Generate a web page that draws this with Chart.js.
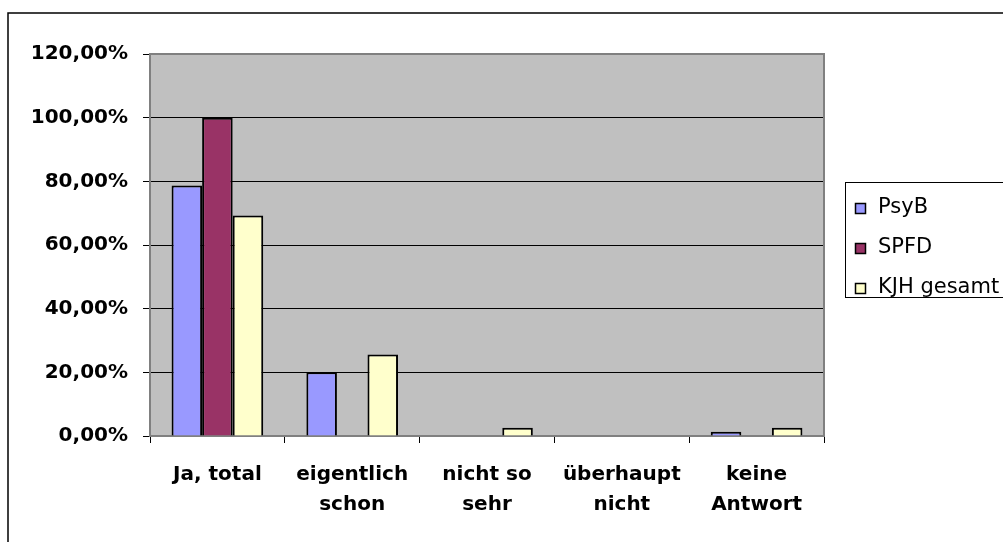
<!DOCTYPE html>
<html>
<head>
<meta charset="utf-8">
<script src="https://cdn.jsdelivr.net/npm/chart.js@4/dist/chart.umd.min.js"></script>
<style>
  html, body { margin: 0; padding: 0; background: #fff; }
  #wrap { width: 1003px; height: 542px; }
</style>
</head>
<body>
<div id="wrap"><canvas id="chart" width="1003" height="542"></canvas></div>
<script>
// data (share of answers, 0..1)
const categories = ['Ja, total', ['eigentlich', 'schon'], ['nicht so', 'sehr'], ['überhaupt', 'nicht'], ['keine', 'Antwort']];
const seriesNames = ['PsyB', 'SPFD', 'KJH gesamt'];
const psyb = [0.7867, 0.20, 0, 0, 0.0133];
const spfd = [1.00, 0, 0, 0, 0];
const kjh = [0.6923, 0.2564, 0.0256, 0, 0.0256];
const yTicks = [0, 0.2, 0.4, 0.6, 0.8, 1.0, 1.2];

const colors = ['#9999FF', '#993366', '#FFFFCC'];
const FONT = '"DejaVu Sans", sans-serif';

// grey plot area, outer frame and plot border
const frame = {
    id: 'frame',
    beforeDraw(chart) {
        const c = chart.ctx, a = chart.chartArea;
        c.save();
        c.fillStyle = '#fff';
        c.fillRect(0, 0, chart.width, chart.height);
        c.strokeStyle = '#000';
        c.lineWidth = 1.5;
        c.strokeRect(8, 13, chart.width + 10, chart.height + 10);
        c.fillStyle = '#C0C0C0';
        c.fillRect(a.left, a.top, a.right - a.left, a.bottom - a.top);
        c.restore();
    },
    beforeDatasetsDraw(chart) {
        const c = chart.ctx, a = chart.chartArea;
        c.save();
        c.strokeStyle = '#808080';
        c.lineWidth = 2;
        c.strokeRect(a.left, a.top, a.right - a.left, a.bottom - a.top);
        c.restore();
    }
};

// legend box on the right
const boxLegend = {
    id: 'boxLegend',
    afterDraw(chart) {
        const c = chart.ctx;
        c.save();
        c.strokeStyle = '#000';
        c.lineWidth = 1;
        c.strokeRect(845.5, 182.5, 200, 115);
        c.font = '21px ' + FONT;
        c.textBaseline = 'middle';
        chart.data.datasets.forEach((ds, i) => {
            const y = 208 + i * 40;
            c.fillStyle = ds.backgroundColor;
            c.fillRect(855, y - 5, 11, 11);
            c.strokeStyle = '#000';
            c.lineWidth = 1.5;
            c.strokeRect(855.5, y - 4.5, 10, 10);
            c.fillStyle = '#000';
            c.fillText(ds.label, 878, y);
        });
        c.restore();
    }
};

const ds = (name, data, i) => ({
    label: name,
    data: data,
    backgroundColor: colors[i],
    borderColor: '#000',
    borderWidth: 2,
    categoryPercentage: 0.68,
    barPercentage: 1.0
});

new Chart(document.getElementById('chart'), {
    type: 'bar',
    data: {
        labels: categories,
        datasets: [ds(seriesNames[0], psyb, 0), ds(seriesNames[1], spfd, 1), ds(seriesNames[2], kjh, 2)]
    },
    options: {
        responsive: false,
        animation: false,
        layout: { padding: { left: 0, top: 54, right: 179, bottom: 0 } },
        plugins: { legend: { display: false }, tooltip: { enabled: false } },
        scales: {
            x: {
                afterFit(s) { s.height = 106; },
                grid: { drawOnChartArea: false, color: '#000', tickLength: 7, offset: true },
                border: { display: false },
                ticks: {
                    color: '#000', padding: 17, maxRotation: 0, autoSkip: false,
                    font: { family: FONT, size: 20, weight: 'bold', lineHeight: 1.5 }
                }
            },
            y: {
                min: 0, max: 1.2,
                afterFit(s) { s.width = 150; },
                afterBuildTicks(s) { s.ticks = yTicks.map(v => ({ value: v })); },
                grid: { color: '#000', lineWidth: 1, tickLength: 7 },
                border: { display: false },
                ticks: {
                    color: '#000', padding: 15,
                    font: { family: FONT, size: 20, weight: 'bold' },
                    callback: v => (v * 100).toFixed(2).replace('.', ',') + '%'
                }
            }
        }
    },
    plugins: [frame, boxLegend]
});
</script>
</body>
</html>
